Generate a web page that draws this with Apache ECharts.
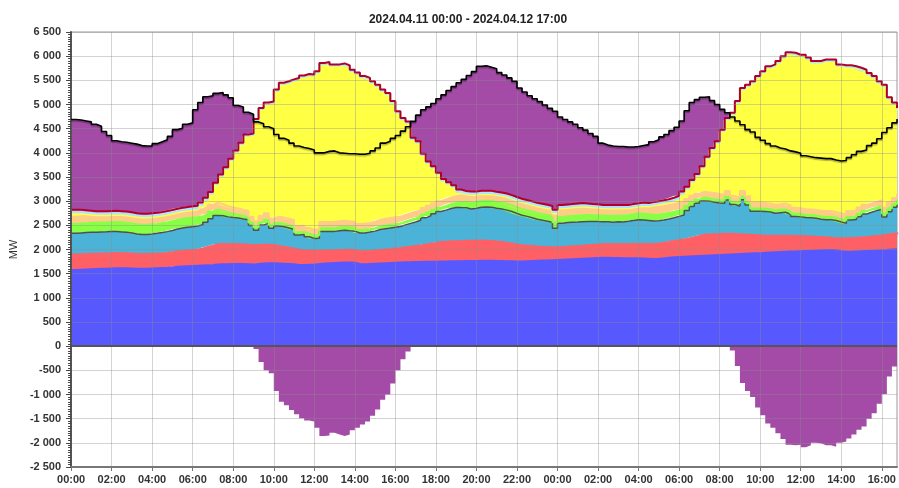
<!DOCTYPE html>
<html>
<head>
<meta charset="utf-8">
<script src="https://cdn.jsdelivr.net/npm/echarts@6/dist/echarts.min.js"></script>
<style>
  html, body { margin: 0; padding: 0; background: #fff; }
  #chart { width: 899px; height: 488px; }
</style>
</head>
<body>
<div id="chart"></div>
<script>
var title = '2024.04.11 00:00 - 2024.04.12 17:00';

// 15 min steps, from 04.11 00:00 to 04.12 16:45
var consumption = [
  4690,4680,4660,4640, 4590,4550,4440,4360,
  4250,4230,4220,4200, 4180,4150,4140,4140,
  4190,4230,4270,4340, 4480,4510,4590,4620,
  4890,5040,5160,5180, 5230,5250,5200,5140,
  4980,4950,4840,4800, 4640,4600,4540,4500,
  4380,4300,4260,4200, 4140,4110,4090,4060,
  4000,4000,4030,4040, 4000,3990,3980,3980,
  3970,3970,3990,4040, 4100,4200,4240,4300,
  4360,4450,4540,4650, 4780,4890,4950,5020,
  5120,5200,5290,5370, 5450,5520,5600,5680,
  5790,5800,5770,5740, 5660,5610,5550,5480,
  5340,5260,5180,5120, 5060,4990,4920,4860,
  4740,4690,4640,4590, 4520,4470,4400,4340,
  4200,4160,4140,4130, 4130,4120,4120,4130,
  4150,4170,4230,4270, 4330,4380,4460,4530,
  4660,4870,5040,5100, 5150,5160,5080,5000,
  4900,4830,4740,4660, 4580,4480,4430,4320,
  4260,4190,4140,4100, 4080,4040,4020,3990,
  3940,3920,3900,3890, 3880,3880,3850,3830,
  3840,3900,3960,4030, 4060,4150,4200,4290,
  4420,4520,4620,4700
];
// total generation (top of the stack, red line)
var generation = [
  2820,2820,2810,2800, 2790,2790,2780,2780,
  2770,2770,2760,2760, 2750,2740,2740,2750,
  2760,2770,2790,2800, 2820,2840,2860,2880,
  2900,2970,3070,3190, 3380,3550,3700,3880,
  4050,4210,4380,4400, 4700,4930,5040,5060,
  5310,5450,5480,5520, 5550,5600,5630,5620,
  5690,5860,5880,5830, 5830,5850,5810,5720,
  5660,5590,5550,5480, 5410,5310,5240,5070,
  4860,4720,4650,4310, 4240,3980,3820,3720,
  3590,3460,3390,3330, 3240,3210,3200,3200,
  3200,3200,3190,3180, 3180,3160,3120,3080,
  3050,3020,2990,2960, 2930,2900,2890,2820,
  2920,2930,2940,2950, 2960,2950,2940,2930,
  2920,2920,2920,2920, 2920,2920,2920,2930,
  2940,2960,2980,3000, 3020,3040,3070,3110,
  3200,3300,3440,3560, 3720,3920,4100,4240,
  4480,4720,4830,5070, 5340,5410,5480,5590,
  5690,5790,5830,5900, 6000,6080,6070,6030,
  6030,5970,5900,5900, 5930,5930,5930,5830,
  5810,5810,5790,5760, 5720,5650,5590,5480,
  5410,5150,5040,4930
];
var nuclear = [
  1575,1580,1585,1590, 1595,1600,1600,1605,
  1610,1610,1610,1605, 1600,1600,1600,1605,
  1610,1615,1620,1630, 1645,1650,1655,1660,
  1665,1670,1675,1680, 1690,1695,1695,1700,
  1700,1700,1695,1690, 1700,1710,1715,1715,
  1710,1705,1700,1695, 1680,1680,1685,1690,
  1700,1710,1715,1720, 1725,1730,1730,1725,
  1700,1695,1700,1705, 1710,1715,1720,1725,
  1730,1735,1735,1740, 1740,1745,1745,1745,
  1750,1750,1755,1755, 1755,1760,1760,1760,
  1765,1765,1765,1760, 1760,1755,1755,1750,
  1750,1755,1760,1765, 1770,1775,1780,1785,
  1790,1795,1800,1805, 1810,1815,1820,1825,
  1830,1830,1825,1825, 1820,1820,1820,1820,
  1815,1810,1805,1810, 1820,1830,1840,1845,
  1850,1855,1860,1865, 1870,1875,1880,1885,
  1890,1895,1900,1905, 1910,1915,1920,1925,
  1935,1940,1945,1950, 1955,1960,1960,1965,
  1970,1975,1980,1985, 1990,1990,1985,1965,
  1955,1955,1960,1965, 1970,1975,1980,1985,
  1990,2000,2005,2010
];
var lignite = [
  315,315,315,315, 312,312,310,310,
  310,308,305,305, 302,300,300,300,
  300,302,305,308, 310,315,320,325,
  330,345,370,395, 415,415,410,410,
  405,400,400,395, 390,385,380,375,
  360,345,330,320, 310,300,290,280,
  270,265,260,260, 260,258,258,260,
  260,262,265,270, 275,280,285,290,
  295,305,315,325, 340,355,370,385,
  400,405,410,410, 412,415,415,415,
  415,412,408,400, 390,380,365,350,
  335,320,305,290, 280,270,262,255,
  255,258,260,262, 265,268,270,272,
  275,278,280,282, 285,288,290,290,
  295,300,305,310, 315,322,330,340,
  350,370,390,410, 430,432,432,430,
  430,425,415,405, 395,385,375,365,
  345,340,335,330, 325,320,315,310,
  300,290,280,270, 260,250,245,265,
  275,280,280,282, 285,290,295,302,
  310,318,328,340
];
var gas = [
  445,448,450,452, 450,452,455,455,
  450,445,440,430, 420,412,410,415,
  425,435,445,455, 470,480,485,488,
  490,495,520,560, 600,590,570,550,
  545,530,520,410, 310,410,450,350,
  415,420,415,400, 310,330,290,260,
  265,400,400,395, 405,410,400,395,
  380,385,395,405, 430,435,440,445,
  450,470,490,505, 525,555,580,610,
  635,660,685,705, 700,690,665,680,
  695,700,700,695, 690,680,665,645,
  625,610,590,570, 555,540,520,400,
  500,505,505,500, 500,495,490,480,
  470,465,460,465, 465,475,490,505,
  500,490,480,475, 475,480,485,500,
  515,580,640,680, 705,690,665,645,
  635,705,615,590, 725,620,495,500,
  505,495,470,480, 490,450,410,400,
  390,390,385,370, 365,375,370,340,
  310,375,380,430, 480,505,530,540,
  375,465,540,605
];
var biomass = [
  195,195,195,195, 195,195,195,195,
  200,200,200,200, 200,200,200,200,
  195,195,195,195, 190,190,190,190,
  190,180,165,150, 120,100,90,80,
  70,65,65,65, 60,60,65,65,
  65,65,60,60, 55,55,60,60,
  60,65,65,65, 65,65,70,70,
  65,65,60,60, 60,65,65,65,
  65,65,70,70, 70,70,75,75,
  80,85,90,95, 110,120,125,130,
  130,130,130,130, 130,130,130,130,
  130,130,130,130, 130,130,130,125,
  130,130,130,135, 135,135,130,130,
  130,130,130,130, 130,130,130,130,
  130,130,130,130, 130,130,125,125,
  120,100,90,80, 70,65,65,65,
  65,65,60,60, 60,60,60,60,
  60,60,60,60, 60,60,60,60,
  60,60,60,60, 60,60,55,55,
  60,60,60,65, 65,65,65,70,
  70,70,70,75
];
var other = [
  150,150,150,150, 150,150,150,150,
  150,150,150,150, 150,150,150,150,
  150,150,150,150, 150,150,150,150,
  150,150,145,140, 140,135,130,130,
  130,125,120,120, 125,130,140,135,
  130,125,130,135, 130,125,120,120,
  125,130,130,135, 130,130,125,125,
  125,130,130,135, 135,140,140,140,
  140,140,140,140, 135,135,135,135,
  135,135,135,135, 140,140,140,140,
  140,140,140,140, 140,140,140,140,
  140,140,140,140, 140,140,140,140,
  160,160,160,160, 160,160,160,160,
  140,140,140,140, 140,140,140,140,
  160,160,160,160, 160,160,160,160,
  150,140,130,120, 120,120,125,125,
  120,120,115,115, 120,120,120,120,
  115,115,115,115, 120,120,120,120,
  115,115,115,115, 120,120,120,125,
  125,125,125,125, 125,120,120,120,
  120,120,120,120
];
var hydro = [
  30,30,30,30, 30,30,30,30,
  30,30,30,30, 30,30,30,30,
  30,30,30,30, 30,30,30,30,
  30,30,25,25, 20,20,20,20,
  20,20,20,20, 20,20,20,20,
  20,20,20,20, 20,20,20,20,
  20,20,20,20, 20,20,20,20,
  20,20,20,20, 20,20,20,20,
  20,20,20,20, 20,20,20,20,
  20,20,20,20, 25,25,25,25,
  25,25,25,25, 25,25,25,25,
  25,25,25,25, 25,25,25,25,
  25,25,25,25, 25,25,25,25,
  25,25,25,25, 25,25,25,25,
  25,25,25,25, 25,25,25,25,
  25,25,20,20, 20,20,20,20,
  20,20,20,20, 20,20,20,20,
  20,20,20,20, 20,20,20,20,
  20,20,20,20, 20,20,20,20,
  20,20,20,20, 20,20,20,20,
  20,20,20,20
];
var wind = [
  50,50,50,50, 50,50,50,50,
  50,50,50,50, 50,50,50,50,
  50,50,50,50, 50,50,50,50,
  50,45,40,35, 25,25,25,25,
  25,25,25,25, 25,25,25,25,
  25,25,25,25, 25,25,25,25,
  25,25,25,25, 25,25,25,25,
  25,25,25,25, 25,25,25,25,
  25,25,25,25, 25,25,25,25,
  25,25,25,25, 45,45,45,45,
  45,45,45,45, 45,45,45,45,
  45,45,45,45, 45,45,45,45,
  45,45,45,45, 45,45,45,45,
  45,45,45,45, 45,45,45,45,
  45,45,45,45, 45,45,45,45,
  45,40,35,30, 25,25,25,25,
  25,25,25,25, 25,25,25,25,
  25,25,25,25, 25,25,25,25,
  25,25,25,25, 25,25,25,25,
  25,25,25,25, 25,25,25,25,
  25,25,25,25
];

// category per quarter hour, "04.11 00:00" ...
var times = consumption.map(function(v, i) {
  var h = Math.floor(i / 4), m = (i % 4) * 15;
  var day = h < 24 ? '04.11 ' : '04.12 ';
  h = h % 24;
  return day + (h < 10 ? '0' : '') + h + ':' + (m < 10 ? '0' : '') + m;
});

// solar = what is left up to the total line, balance = consumption - generation
var solar = [], balance = [];
generation.forEach(function(g, i) {
  var below = nuclear[i] + lignite[i] + gas[i] + biomass[i] + other[i];
  var s = Math.max(0, g - below - hydro[i] - wind[i]);
  solar.push(s);
  balance.push(consumption[i] - (below + s + hydro[i] + wind[i]));
});

function layer(name, arr, color, line, z) {
  return {
    name: name,
    type: 'line',
    step: 'end',
    stack: 'mix',
    symbol: 'none',
    data: arr,
    itemStyle: { color: color },
    areaStyle: { color: color, opacity: 1 },
    lineStyle: line || { color: color, width: 2 },
    z: z || 2
  };
}

function fmtNum(v) {
  var s = String(Math.abs(v)).replace(/\B(?=(\d{3})+(?!\d))/g, ' ');
  return (v < 0 ? '-' : '') + s;
}

var labelFont = { fontSize: 11, fontWeight: 'bold', color: '#333', fontFamily: 'Liberation Sans' };
var gridColor = 'rgba(140,140,140,0.38)';

var chart = echarts.init(document.getElementById('chart'));

chart.setOption({
  animation: false,
  title: {
    text: title,
    left: 463,
    top: 9,
    textAlign: 'center',
    textStyle: { fontSize: 12, fontWeight: 'bold', color: '#222', fontFamily: 'Liberation Sans' }
  },
  grid: { left: 69, right: 2, top: 32, bottom: 21, show: true, borderColor: '#999', borderWidth: 1 },
  xAxis: {
    type: 'category',
    data: times,
    boundaryGap: false,
    z: 3,
    axisLine: { onZero: false, lineStyle: { color: '#777', width: 2 } },
    axisTick: { show: true, interval: 7, length: 4, lineStyle: { color: '#777' } },
    axisLabel: Object.assign({
      margin: 7,
      interval: 7,
      formatter: function(v) { return v.slice(6); }
    }, labelFont),
    splitLine: { show: true, interval: 7, lineStyle: { color: gridColor, width: 1 } }
  },
  yAxis: {
    type: 'value',
    min: -2500,
    max: 6500,
    interval: 500,
    z: 3,
    name: 'MW',
    nameLocation: 'middle',
    nameGap: 41,
    nameRotate: 90,
    nameTextStyle: { fontSize: 11, color: '#333', fontFamily: 'Liberation Sans' },
    axisLine: { show: true, lineStyle: { color: '#555', width: 2 } },
    axisTick: { show: true, length: 5, lineStyle: { color: '#444' } },
    minorTick: { show: true, splitNumber: 10, length: 3, lineStyle: { color: '#444' } },
    axisLabel: Object.assign({ margin: 10, formatter: fmtNum }, labelFont),
    splitLine: { show: true, lineStyle: { color: gridColor, width: 1 } }
  },
  series: [
    layer('Nuclear', nuclear, '#5858ff'),
    layer('Lignite', lignite, '#ff6066', { color: '#ff6066', width: 2.5 }),
    layer('Gas', gas, '#4bb3d8', { color: '#505050', width: 1.5 }),
    layer('Biomass', biomass, '#88ff44'),
    layer('Other', other, '#ffcc88'),
    layer('Solar', solar, '#ffff44'),
    layer('Hydro', hydro, '#a8e8ff'),
    layer('Wind', wind, '#f4a0f4', { color: '#b0002a', width: 2 }),
    layer('Balance', balance, '#a34ba6', { width: 0 }, 1),
    {
      name: 'Consumption',
      type: 'line',
      step: 'end',
      symbol: 'none',
      data: consumption,
      lineStyle: { color: '#000', width: 1.6, shadowColor: 'rgba(0,0,0,0.3)', shadowOffsetY: 1.5, shadowBlur: 1 },
      markLine: {
        silent: true,
        symbol: ['none', 'none'],
        label: { show: false },
        lineStyle: { color: '#555', width: 2, type: 'solid' },
        data: [{ yAxis: 0 }]
      },
      z: 5
    }
  ]
});
</script>
</body>
</html>
